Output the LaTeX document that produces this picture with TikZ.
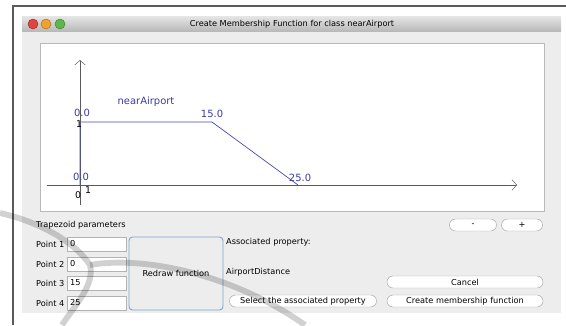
\documentclass[tikz,border=0pt]{standalone}
\usepackage{fontspec}
\setmainfont{DejaVu Sans}
\usepackage{xcolor}
\usetikzlibrary{arrows, arrows.meta, calc, positioning, shapes.misc}

\definecolor{winbg}{HTML}{EDEDED}
\definecolor{plotblue}{HTML}{4A4AB4}
\definecolor{labblue}{HTML}{3A3AA8}
\definecolor{btnblue}{HTML}{7AA6D6}
\definecolor{axisgray}{HTML}{5A5A5A}
\definecolor{lred}{HTML}{E0443E}
\definecolor{lamber}{HTML}{F2A12C}
\definecolor{lgreen}{HTML}{5CB84A}

\tikzset{
  uitext/.style={font=\fontsize{7}{8}\selectfont, inner sep=0pt},
  plotlab/.style={font=\fontsize{8.5}{9}\selectfont, text=labblue, inner sep=0pt},
  ticklab/.style={font=\fontsize{8}{9}\selectfont, text=black, inner sep=0pt},
  field/.style={draw=gray!60, fill=white, minimum width=1.77cm, minimum height=0.42cm, inner sep=0pt},
  pill/.style={rounded rectangle, draw=gray!70, fill=white, inner sep=0pt, minimum height=0.36cm, font=\fontsize{7}{8}\selectfont},
  light/.style={circle, minimum size=0.3cm, inner sep=0pt, draw=#1!70!black, fill=#1},
}

\begin{document}
\begin{tikzpicture}[x=0.03cm, y=-0.03cm]
        \useasboundingbox[fill=white] (0,0) rectangle (566,325);

        % window
        \draw[axisgray, line width=1pt] (13,325)--(13,6)--(566,6);
        \fill[winbg] (22,31) rectangle (561,313);
        \shade[top color=gray!20, bottom color=gray!55] (22,16) rectangle (561,31);
        \node[light=lred] (red) at (33,24) {};
        \node[light=lamber] (amber) at (46,24) {};
        \node[light=lgreen] (grn) at (60,24) {};
        \node[uitext] (title) at (292,24) {Create Membership Function for class nearAirport};

        % plot panel
        \draw[draw=gray!55, fill=white] (40,43) rectangle (544,211);
        \coordinate (ybot) at (80,205);
        \coordinate (ytop) at (80,60);
        \coordinate (xl) at (47,185);
        \coordinate (xr) at (517,185);
        \draw[axisgray, -{Straight Barb[length=4pt, width=9pt]}] (ybot)--(ytop);
        \draw[axisgray, -{Straight Barb[length=4pt, width=9pt]}] (xl)--(xr);

        \coordinate (p1) at (80,185);
        \coordinate (p2) at (80,122);
        \coordinate (p3) at (212,122);
        \coordinate (p4) at (298,185);
        \draw[plotblue, line width=0.6pt] (p1)--(p2)--(p3)--(p4);

        \node[ticklab] (one) at (79,124) {1};
        \node[plotlab] (lb2) at (82,113) {0.0};
        \node[plotlab] (name) at (146,102) {nearAirport};
        \node[plotlab] (lb3) at (212,114) {15.0};
        \node[plotlab] (lb1) at (81,177) {0.0};
        \node[plotlab] (lb4) at (300,178) {25.0};
        \node[ticklab] (zero) at (78,195) {0};
        \node[ticklab] (onex) at (88,190) {1};

        % parameters
        \node[uitext, anchor=west] (trap) at (36,225) {Trapezoid parameters};
        \node[uitext, anchor=west] (pt1) at (36,244) {Point 1};
        \node[uitext, anchor=west] (pt2) at (36,264) {Point 2};
        \node[uitext, anchor=west] (pt3) at (36,283) {Point 3};
        \node[uitext, anchor=west] (pt4) at (36,303) {Point 4};
        \node[field, anchor=west] (f1) at (67,244) {};
        \node[field, anchor=west] (f2) at (67,264) {};
        \node[field, anchor=west] (f3) at (67,283) {};
        \node[field, anchor=west] (f4) at (67,303) {};
        \node[uitext, anchor=west] at ($(f1.west)+(3,0)$) {0};
        \node[uitext, anchor=west] at ($(f2.west)+(3,0)$) {0};
        \node[uitext, anchor=west] at ($(f3.west)+(3,0)$) {15};
        \node[uitext, anchor=west] at ($(f4.west)+(3,0)$) {25};

        \draw[btnblue, line width=0.8pt, rounded corners=3pt, fill=winbg] (129,237) rectangle (223,310);
        \node[uitext] (redraw) at (176,273) {Redraw function};

        \node[uitext, anchor=west] (assoc) at (226,242) {Associated property:};
        \node[uitext, anchor=west] (prop) at (226,272) {AirportDistance};

        % buttons
        \node[pill, minimum width=1.41cm] (minus) at (473,225) {-};
        \node[pill, minimum width=1.23cm] (plus) at (522,225) {+};
        \node[pill, minimum width=4.68cm] (cancel) at (465,282) {Cancel};
        \node[pill, minimum width=4.68cm] (create) at (465,301) {Create membership function};
        \node[pill, minimum width=4.41cm] (select) at (303,301) {Select the associated property};

        % watermark
        \draw[black, opacity=0.18, line width=5pt] (0,213) .. controls (40,222) and (75,242) .. (90,265)
              .. controls (95,285) and (75,305) .. (62,325);
        \draw[black, opacity=0.18, line width=5pt] (90,265) .. controls (140,256) and (230,272) .. (305,325);
\end{tikzpicture}
\end{document}
